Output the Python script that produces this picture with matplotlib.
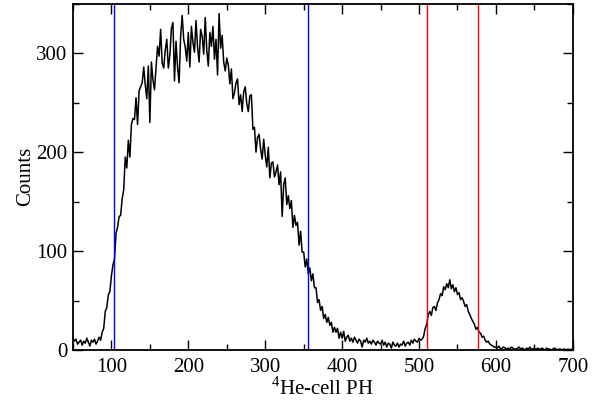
import numpy as np
import matplotlib
matplotlib.use("Agg")
import matplotlib.pyplot as plt

plt.rcParams['font.family'] = ['Liberation Serif', 'DejaVu Serif']
plt.rcParams['mathtext.fontset'] = 'custom'
plt.rcParams['mathtext.rm'] = 'Liberation Serif'

# Histogram: 2-unit bins starting at PH = 50
ph_start = 50
ph_step = 2
counts = [
    # 50 - 86
    12, 9, 11, 6, 8, 10, 5, 9, 7, 12, 8, 4, 10, 8, 11, 6, 9, 13, 10,
    # 88 - 138
    18, 22, 39, 43, 56, 59, 75, 86, 92, 118, 124, 135, 136, 153, 162, 195,
    184, 212, 195, 228, 234, 233, 255, 228, 262, 266,
    # 140 - 250
    270, 286, 268, 254, 287, 230, 291, 273, 263, 285, 307, 297, 324, 290,
    285, 303, 314, 285, 298, 325, 331, 272, 312, 286, 270, 317, 338, 314,
    306, 292, 321, 286, 327, 311, 301, 333, 306, 291, 324, 317, 299, 336,
    303, 287, 321, 307, 327, 294, 314, 278, 340, 305, 318, 291, 282, 295,
    # 252 - 410
    288, 269, 284, 254, 260, 270, 274, 248, 258, 241, 261, 266, 249, 241,
    257, 258, 223, 225, 200, 215, 218, 203, 193, 213, 197, 185, 205, 174,
    189, 190, 175, 180, 187, 167, 180, 135, 167, 174, 147, 156, 143, 151,
    124, 136, 126, 129, 106, 120, 99, 99, 84, 92, 77, 83, 70, 77, 63, 63,
    48, 51, 40, 44, 32, 36, 28, 33, 25, 28, 18, 23, 18, 22, 12, 18, 12, 19,
    9, 13, 15, 9,
    # 412 - 506
    12, 8, 13, 10, 7, 11, 9, 3, 10, 8, 12, 7, 9, 6, 10, 8, 5, 9, 7, 6, 10,
    5, 8, 3, 7, 6, 2, 8, 5, 4, 7, 3, 6, 5, 9, 4, 7, 8, 5, 10, 7, 11, 9, 8,
    12, 10, 11, 14,
    # 508 - 598
    22, 26, 36, 39, 35, 43, 44, 40, 48, 51, 57, 55, 64, 61, 67, 63, 71, 62,
    66, 59, 63, 56, 58, 51, 53, 49, 44, 46, 39, 36, 32, 29, 26, 21, 23, 18,
    17, 13, 14, 10, 8, 9, 6, 5, 4, 3,
    # 600 - 700
    3, 2, 4, 1, 2, 3, 2, 1, 2, 1, 3, 2, 1, 1, 2, 3, 1, 2, 1, 0, 2, 1, 3, 1,
    1, 2, 0, 2, 1, 1, 2, 1, 0, 2, 1, 1, 0, 1, 2, 1, 0, 1, 1, 0, 1, 1, 0, 1,
    0, 1, 0,
]
ph = ph_start + ph_step * np.arange(len(counts))

blue_cuts = [104, 355]
red_cuts = [510, 577]

fig = plt.figure(figsize=(6.03, 4.08), dpi=100)
ax = fig.add_axes([0.121, 0.142, 0.829, 0.849])

ax.plot(ph, counts, color='black', linewidth=1.1)
for xc in blue_cuts:
    ax.axvline(xc, color='#0000ff', linewidth=1.0)
for xc in red_cuts:
    ax.axvline(xc, color='#ff0000', linewidth=1.0)

ax.set_xlim(50, 700)
ax.set_ylim(0, 350)
ax.set_xticks([100, 200, 300, 400, 500, 600, 700])
ax.set_xticks(np.arange(50, 701, 50), minor=True)
ax.set_yticks([0, 100, 200, 300])
ax.set_yticks(np.arange(0, 351, 50), minor=True)

ax.tick_params(which='both', direction='in', top=True, right=True, labelsize=15, width=1.0)
ax.tick_params(which='major', length=7)
ax.tick_params(which='minor', length=4)
ax.tick_params(axis='x', pad=6)
ax.tick_params(axis='y', pad=4)
for s in ax.spines.values():
    s.set_linewidth(1.3)

ax.set_xlabel(r"$^{4}$He-cell PH", fontsize=15, labelpad=-0.5)
ax.set_ylabel("Counts", fontsize=15, labelpad=1)

fig.savefig("out.png", dpi=100)
